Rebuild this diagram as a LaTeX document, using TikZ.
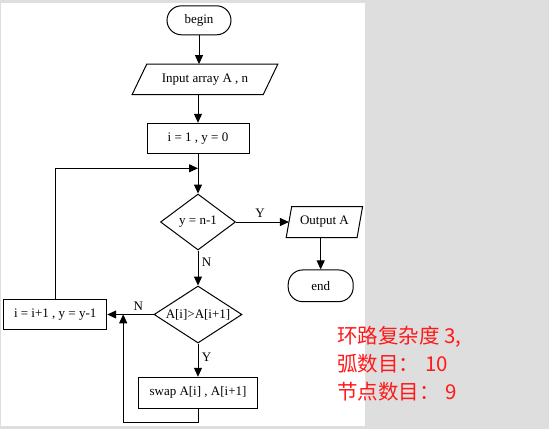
\documentclass[tikz,border=0pt]{standalone}
\usepackage{fontspec}
\setmainfont{Liberation Serif}
\newfontfamily\cjk{Noto Sans CJK SC}
\usetikzlibrary{arrows.meta,shapes.geometric,calc}
\definecolor{bggray}{RGB}{222,222,222}
\definecolor{txtred}{RGB}{255,25,25}
\begin{document}
\begin{tikzpicture}[x=1pt,y=-1pt,
  every node/.style={font=\fontsize{13}{15}\selectfont},
  ln/.style={line width=1pt, draw=black},
  arr/.style={ln, -{Triangle[length=9pt,width=8pt]}},
  term/.style={ln, rectangle, rounded corners=14.5pt, minimum height=30pt, inner sep=0pt},
  proc/.style={ln, rectangle, minimum height=30pt, inner sep=0pt},
  iobox/.style={rectangle, minimum height=30pt, inner sep=0pt},
  dec/.style={ln, diamond, inner sep=0pt},
  lbl/.style={inner sep=0pt},
  redtxt/.style={font=\cjk\fontsize{20.5}{24}\selectfont, text=txtred, inner sep=0pt, anchor=base west}
]
\useasboundingbox (0,0) rectangle (549,429);
\fill[bggray] (0,0) rectangle (549,429);
\fill[white] (1,3) rectangle (365,426);

\node[term, minimum width=64pt, minimum height=29pt] (begin) at (199,20.3) {begin};
\node[iobox, minimum width=130.7pt] (in) at (205,79.3) {Input array A , n};
\draw[ln] ($(in.north west)+(7.3,0)$) -- ($(in.north east)+(7.3,0)$) -- ($(in.south east)-(7.3,0)$) -- ($(in.south west)-(7.3,0)$) -- cycle;
\node[proc, minimum width=102pt] (i1) at (198,138.3) {i = 1 , y = 0};
\node[dec, minimum width=75pt, minimum height=56pt] (d1) at (198,222) {\makebox[0pt]{y = n-1}};
\node[iobox, minimum width=70.5pt, minimum height=30.6pt] (out) at (324.4,222) {Output A};
\draw[ln] ($(out.north west)+(2.75,0)$) -- ($(out.north east)+(2.75,0)$) -- ($(out.south east)-(2.75,0)$) -- ($(out.south west)-(2.75,0)$) -- cycle;
\node[term, minimum width=65pt, minimum height=31.7pt] (end) at (320.7,285.8) {end};
\node[dec, minimum width=88pt, minimum height=57pt] (d2) at (198,314.5) {\makebox[0pt]{A[i]>A[i+1]}};
\node[proc, minimum width=103pt] (b3) at (55.2,314.3) {i = i+1 , y = y-1};
\node[proc, minimum width=118.4pt, minimum height=31pt] (swap) at (198,392.8) {swap A[i] , A[i+1]};

\coordinate (j1) at (198,168.3);
\coordinate (j2) at (123.2,314.3);

\draw[arr] (begin.south) -- (begin.south |- in.north);
\draw[arr] (i1.north |- in.south) -- (i1.north);
\draw[arr] (i1.south) -- (d1.north);
\draw[arr] (b3.north) |- (j1);
\draw[arr] (d1.east) -- (d1.east -| out.west);
\draw[arr] (end.north |- out.south) -- (end.north);
\draw[arr] (d1.south) -- (d2.north);
\draw[arr] (d2.west) -- (d2.west -| b3.east);
\draw[arr] (d2.south) -- (swap.north);
\draw[arr] (swap.south) -- ++(0,13.7) -| (j2);

\node[lbl] (ly1) at (260,213.3) {Y};
\node[lbl] (ln1) at (206.6,262.7) {N};
\node[lbl] (ln2) at (138.3,306) {N};
\node[lbl] (ly2) at (206.6,357.7) {Y};

\node[redtxt] (r1) at (337,343) {环路复杂度 3,};
\node[redtxt] (r2) at (337,371) {弧数目：\hspace{6pt}10};
\node[redtxt] (r3) at (337,399) {节点数目：\hspace{6pt}9};
\end{tikzpicture}
\end{document}
